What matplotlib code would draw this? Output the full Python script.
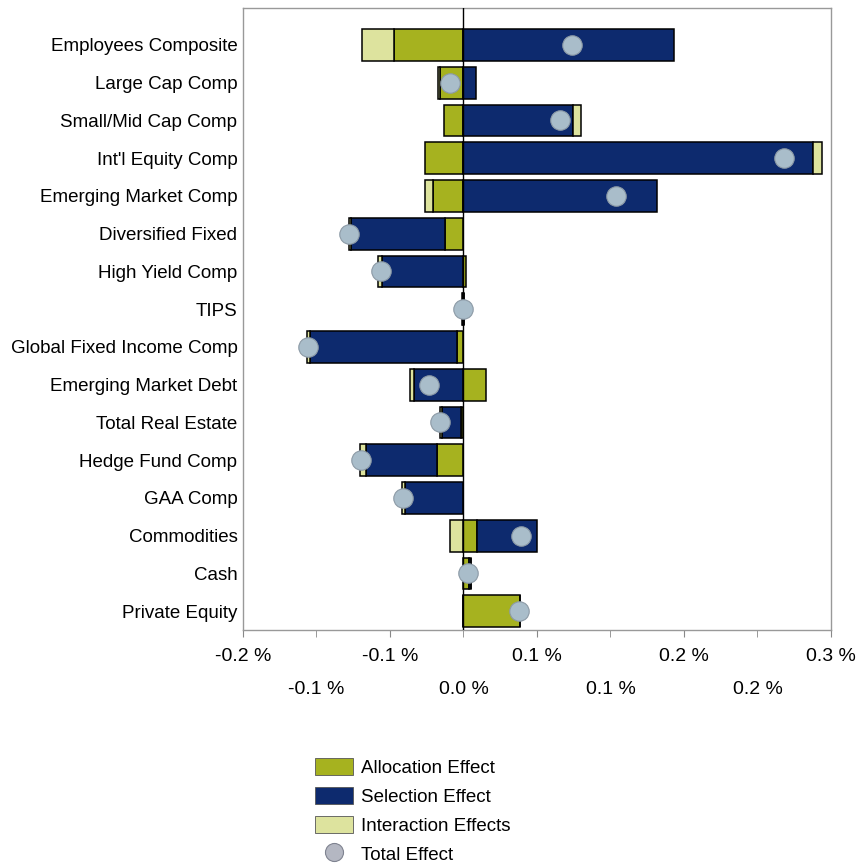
import matplotlib
matplotlib.use("Agg")
import matplotlib.pyplot as plt
import numpy as np
from matplotlib.patches import Patch
from matplotlib.lines import Line2D

plt.rcParams['font.family'] = ['Liberation Sans', 'DejaVu Sans']

categories = ["Employees Composite", "Large Cap Comp", "Small/Mid Cap Comp",
              "Int'l Equity Comp", "Emerging Market Comp", "Diversified Fixed",
              "High Yield Comp", "TIPS", "Global Fixed Income Comp",
              "Emerging Market Debt", "Total Real Estate", "Hedge Fund Comp",
              "GAA Comp", "Commodities", "Cash", "Private Equity"]

# values in percent
allocation = [-0.047, -0.0163, -0.013, -0.0259, -0.0204, -0.0129, 0.0014, 0.0006,
              -0.0041, 0.015, -0.002, -0.0177, -0.0005, 0.0089, 0.004, 0.0385]
selection = [0.143, 0.0082, 0.0743, 0.2377, 0.1315, -0.0634, -0.0552, -0.0012,
             -0.1001, -0.034, -0.0123, -0.0484, -0.0395, 0.041, 0.0008, -0.0005]
interaction = [-0.0218, -0.0008, 0.0054, 0.0061, -0.0061, -0.0014, -0.0027, 0.0,
               -0.002, -0.0027, -0.0014, -0.0041, -0.002, -0.0095, 0.0, 0.0]
total = [0.0736, -0.0089, 0.066, 0.218, 0.104, -0.0777, -0.0559, -0.0005,
         -0.106, -0.0232, -0.0157, -0.070, -0.0409, 0.0388, 0.0034, 0.0375]

series_names = ["Allocation Effect", "Selection Effect", "Interaction Effects"]
series_colors = ["#A6B21F", "#0D2A6E", "#DDE39E"]

x_major_ticks = [-0.15, -0.05, 0.05, 0.15, 0.25]
x_major_labels = ["-0.2 %", "-0.1 %", "0.1 %", "0.2 %", "0.3 %"]
x_minor_ticks = [-0.10, 0.0, 0.10, 0.20]
x_minor_labels = ["-0.1 %", "0.0 %", "0.1 %", "0.2 %"]

fig = plt.figure(figsize=(8.58, 8.66), dpi=100)
ax = fig.add_axes([0.2832, 0.2725, 0.6853, 0.7183])

y = np.arange(len(categories))
pos = np.zeros(len(categories))
neg = np.zeros(len(categories))
for vals, name, col in zip([allocation, selection, interaction], series_names, series_colors):
    v = np.array(vals)
    left = np.where(v >= 0, pos, neg)
    ax.barh(y, v, left=left, height=0.84, color=col, edgecolor="black",
            linewidth=1.1, zorder=2)
    pos = np.where(v >= 0, pos + v, pos)
    neg = np.where(v < 0, neg + v, neg)

ax.axvline(0, color="black", linewidth=1.0, zorder=3)
ax.plot(total, y, linestyle="none", marker="o", markersize=14,
        markerfacecolor="#A9BDCA", markeredgecolor="#8C9AA6",
        markeredgewidth=0.8, zorder=4)

ax.set_xlim(-0.15, 0.25)
ax.set_ylim(15.5, -0.98)
ax.set_yticks(y)
ax.set_yticklabels(categories, fontsize=13.5)
ax.tick_params(axis="y", length=0, pad=4)

ax.set_xticks(x_major_ticks)
ax.set_xticklabels(x_major_labels, fontsize=14)
ax.set_xticks(x_minor_ticks, minor=True)
ax.set_xticklabels(x_minor_labels, minor=True, fontsize=14)
ax.tick_params(axis="x", which="major", length=5, pad=8, color="#888888")
ax.tick_params(axis="x", which="minor", length=5, pad=32, color="#888888")

for s in ax.spines.values():
    s.set_color("#999999")
    s.set_linewidth(1.0)

handles = [Patch(facecolor=c, edgecolor="#555555", linewidth=0.6) for c in series_colors]
handles.append(Line2D([], [], linestyle="none", marker="o", markersize=13,
                      markerfacecolor="#B4B7C2", markeredgecolor="#7F8390",
                      markeredgewidth=0.8))
fig.legend(handles, series_names + ["Total Effect"], loc="upper left",
           bbox_to_anchor=(0.3565, 0.1355), frameon=False, fontsize=13.5,
           borderpad=0, handlelength=2.0, handleheight=1.05,
           handletextpad=0.45, labelspacing=0.52)

fig.savefig("out.png", dpi=100)
